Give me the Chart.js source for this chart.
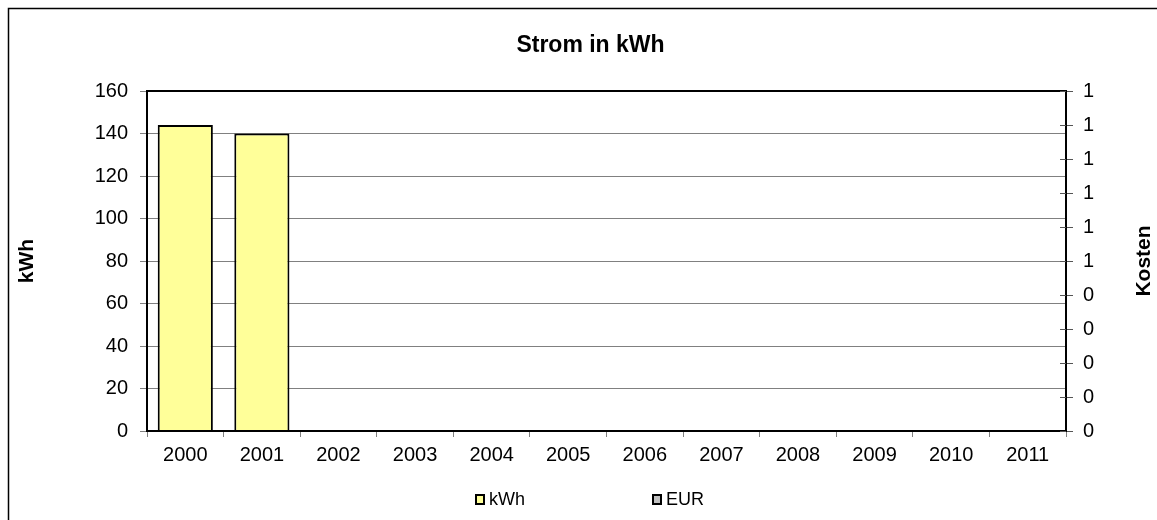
<!DOCTYPE html>
<html><head><meta charset="utf-8">
<script src="https://cdn.jsdelivr.net/npm/chart.js@4.4.1/dist/chart.umd.min.js"></script>
<style>html,body{margin:0;padding:0;background:#fff;overflow:hidden}#wrap{width:1157px;height:520px;position:relative}</style>
</head><body><div id="wrap"><canvas id="c" width="1157" height="520"></canvas></div>
<script>
const years = ['2000','2001','2002','2003','2004','2005','2006','2007','2008','2009','2010','2011'];
const kwhValues = [144, 140, null, null, null, null, null, null, null, null, null, null];
const eurValues = [null, null, null, null, null, null, null, null, null, null, null, null];
const rightTickLabels = ['0','0','0','0','0','1','1','1','1','1','1'];
const chartTitle = 'Strom in kWh';
const leftAxisTitle = 'kWh';
const rightAxisTitle = 'Kosten';

const FAM = '"Liberation Sans", Arial, Helvetica, sans-serif';

const decor = {
  id: 'decor',
  beforeDraw(chart) {
    const ctx = chart.ctx;
    ctx.save();
    ctx.fillStyle = '#fff';
    ctx.fillRect(0, 0, chart.width, chart.height);
    ctx.strokeStyle = '#000';
    ctx.lineWidth = 1.5;
    ctx.strokeRect(8.5, 8.5, chart.width + 20, chart.height + 20);
    ctx.restore();
  },
  afterDraw(chart) {
    const ctx = chart.ctx;
    const a = chart.chartArea;
    ctx.save();
    // plot border
    ctx.strokeStyle = '#000';
    ctx.lineWidth = 2;
    ctx.strokeRect(a.left, a.top, a.right - a.left, a.bottom - a.top);
    // inner ticks on right axis
    const y1 = chart.scales.y1;
    ctx.strokeStyle = '#555';
    ctx.lineWidth = 1;
    y1.ticks.forEach((t, i) => {
      const py = Math.round(y1.getPixelForTick(i)) + 0.5;
      ctx.beginPath();
      ctx.moveTo(a.right - 6, py);
      ctx.lineTo(a.right, py);
      ctx.stroke();
    });
    // axis titles
    ctx.fillStyle = '#000';
    ctx.font = 'bold 21px ' + FAM;
    ctx.textAlign = 'center';
    ctx.textBaseline = 'middle';
    const cy = (a.top + a.bottom) / 2;
    ctx.save(); ctx.translate(27, cy); ctx.rotate(-Math.PI / 2); ctx.fillText(leftAxisTitle, 0, 0); ctx.restore();
    ctx.save(); ctx.translate(1144, cy); ctx.rotate(-Math.PI / 2); ctx.fillText(rightAxisTitle, 0, 0); ctx.restore();
    // legend
    ctx.font = '18px ' + FAM;
    ctx.textAlign = 'left';
    ctx.textBaseline = 'middle';
    let x = 475;
    const ly = 500;
    chart.data.datasets.forEach(ds => {
      ctx.fillStyle = ds.backgroundColor;
      ctx.fillRect(x, ly - 6, 10, 11);
      ctx.strokeStyle = '#000';
      ctx.lineWidth = 2;
      ctx.strokeRect(x + 1, ly - 5, 8, 9);
      ctx.fillStyle = '#000';
      ctx.fillText(ds.label, x + 14, ly);
      x += 177;
    });
    ctx.restore();
  }
};

new Chart(document.getElementById('c'), {
  type: 'bar',
  data: {
    labels: years,
    datasets: [
      { label: 'kWh', data: kwhValues, backgroundColor: '#FFFF99', borderColor: '#000', borderWidth: 2,
        yAxisID: 'y', grouped: false, categoryPercentage: 1, barPercentage: 0.72 },
      { label: 'EUR', data: eurValues, backgroundColor: '#C0C0C0', borderColor: '#000', borderWidth: 2,
        yAxisID: 'y1', grouped: false, categoryPercentage: 1, barPercentage: 0.72 }
    ]
  },
  options: {
    responsive: false,
    animation: false,
    devicePixelRatio: 1,
    layout: { padding: { left: 24, right: 0, top: 0, bottom: 0 } },
    plugins: {
      legend: { display: false },
      tooltip: { enabled: false },
      title: { display: true, text: chartTitle, color: '#000',
        font: { size: 23, weight: 'bold', family: FAM }, padding: { top: 32, bottom: 31.4 } }
    },
    scales: {
      x: {
        offset: true,
        grid: { offset: true, drawOnChartArea: false, tickLength: 6, color: '#808080', tickColor: '#808080' },
        border: { display: true, color: '#000', width: 2 },
        ticks: { font: { size: 20, family: FAM }, color: '#000', padding: 6, maxRotation: 0, autoSkip: false },
        afterFit: s => { s.height = 89; }
      },
      y: {
        position: 'left', min: 0, max: 160,
        grid: { color: '#808080', tickLength: 7, tickColor: '#808080' },
        border: { display: true, color: '#000', width: 2 },
        ticks: { stepSize: 20, font: { size: 20, family: FAM }, color: '#000', padding: 12 },
        afterFit: s => { s.width = 123; }
      },
      y1: {
        position: 'right', min: 0, max: 1,
        grid: { drawOnChartArea: false, tickLength: 7, color: '#555', tickColor: '#555' },
        border: { display: true, color: '#000', width: 2 },
        ticks: { stepSize: 0.1, font: { size: 20, family: FAM }, color: '#000', padding: 10,
          callback: (v, i) => rightTickLabels[i] },
        afterFit: s => { s.width = 91; }
      }
    }
  },
  plugins: [decor]
});
</script></body></html>
